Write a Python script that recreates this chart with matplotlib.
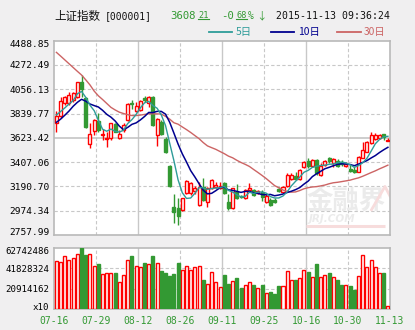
import numpy as np
import pandas as pd
import matplotlib
matplotlib.use("Agg")
import matplotlib.pyplot as plt
from matplotlib.lines import Line2D
from matplotlib.transforms import ScaledTranslation

# ---- datos diarios (07-16 .. 11-13) ----
opens = [3753, 3821, 3931, 3931, 3961, 3990, 4118, 3981, 3566, 3684,
         3774, 3649, 3613, 3619, 3744, 3619, 3693, 3782, 3930, 3863,
         3872, 3981, 3931, 3990, 3649, 3762, 3613, 3376, 3011, 2996,
         2981, 3129, 3129, 3150, 3025, 3189, 3055, 3174, 3186, 3174,
         3218, 3055, 2996, 3138, 3105, 3085, 3159, 3159, 3129, 3138,
         3049, 3070, 3070, 3168, 3144, 3198, 3257, 3287, 3257, 3367,
         3417, 3376, 3426, 3293, 3382, 3447, 3396, 3417, 3405, 3376,
         3350, 3340, 3322, 3447, 3500, 3575, 3613, 3625, 3655, 3598]
highs = [3863, 3990, 3999, 4029, 4035, 4124, 4183, 3990, 3753, 3791,
         3842, 3702, 3679, 3759, 3753, 3693, 3753, 3937, 3961, 3946,
         3961, 3999, 3999, 3996, 3797, 3783, 3634, 3382, 3120, 3085,
         3091, 3248, 3233, 3198, 3233, 3269, 3189, 3257, 3233, 3233,
         3233, 3120, 3180, 3210, 3114, 3168, 3218, 3168, 3159, 3159,
         3120, 3085, 3088, 3189, 3198, 3307, 3307, 3322, 3346, 3417,
         3447, 3435, 3435, 3400, 3425, 3456, 3447, 3435, 3426, 3411,
         3382, 3367, 3465, 3589, 3596, 3673, 3664, 3661, 3661, 3620]
lows = [3679, 3797, 3916, 3916, 3946, 3981, 3990, 3714, 3530, 3649,
        3679, 3604, 3545, 3604, 3673, 3613, 3679, 3774, 3880, 3851,
        3863, 3946, 3901, 3732, 3554, 3649, 3486, 3189, 2862, 2847,
        2975, 3120, 3114, 3120, 3020, 3061, 3011, 3168, 3174, 3165,
        3120, 2981, 2990, 3079, 3085, 3079, 3144, 3109, 3120, 3061,
        3040, 3020, 3040, 3144, 3140, 3189, 3248, 3248, 3248, 3352,
        3358, 3367, 3293, 3287, 3376, 3396, 3367, 3367, 3376, 3367,
        3322, 3308, 3316, 3441, 3495, 3566, 3604, 3613, 3604, 3596]
closes = [3818, 3952, 3984, 4005, 4020, 4118, 4059, 3717, 3655, 3780,
          3693, 3658, 3625, 3753, 3679, 3661, 3738, 3925, 3926, 3910,
          3952, 3964, 3990, 3738, 3791, 3655, 3495, 3198, 2966, 2930,
          3085, 3239, 3218, 3174, 3189, 3070, 3174, 3248, 3204, 3198,
          3129, 2996, 3174, 3085, 3098, 3159, 3180, 3115, 3150, 3100,
          3109, 3025, 3055, 3150, 3189, 3293, 3293, 3257, 3337, 3405,
          3376, 3426, 3308, 3373, 3417, 3417, 3435, 3376, 3388, 3388,
          3330, 3320, 3456, 3515, 3584, 3649, 3649, 3649, 3631, 3608.21]
# volumen (x10), en millones
vol_m = [49.2, 48.2, 54.8, 50.3, 52.3, 56.5, 62.742486, 55.8, 56.5, 44.0,
         46.4, 36.1, 36.7, 36.7, 37.1, 27.4, 34.7, 50.3, 54.8, 44.0,
         43.0, 47.5, 46.1, 54.8, 47.1, 39.2, 37.1, 34.0, 36.1, 47.5,
         39.9, 44.0, 39.9, 43.0, 44.0, 29.5, 25.3, 37.8, 27.4, 22.2,
         35.0, 26.0, 28.4, 31.9, 21.5, 24.3, 27.4, 24.3, 21.1, 24.3,
         15.9, 17.3, 15.3, 23.6, 23.2, 38.8, 29.5, 29.5, 31.5, 39.9,
         38.1, 32.6, 46.4, 32.6, 34.7, 37.1, 32.6, 29.8, 24.6, 24.3,
         23.6, 19.4, 33.6, 55.5, 43.0, 50.3, 43.0, 36.7, 37.1, 2.4]

# medias al inicio de la ventana (dependen de días anteriores)
ma5_head = [3827, 3858, 3890, 3925]
ma10_head = [3762, 3790, 3825, 3862, 3905, 3940, 3967, 3950, 3925]
ma30_head = [4385, 4352, 4318, 4284, 4250, 4216, 4183, 4140, 4095, 4040,
             3998, 3965, 3930, 3895, 3872, 3852, 3840, 3830, 3822, 3822,
             3826, 3832, 3838, 3838, 3837, 3835, 3815, 3790, 3758]

date_labels = ["07-16", "07-29", "08-12", "08-26", "09-11",
               "09-25", "10-16", "10-30", "11-13"]
price_ticks = [2757.99, 2974.34, 3190.70, 3407.06, 3623.42,
               3839.77, 4056.13, 4272.49, 4488.85]
VOL_MAX = 62742486

# ---- colores ----
BG = "#f0eff0"
RED = "#ff0000"
GREEN = "#339933"
C5, C10, C30 = "#2e9c99", "#00008f", "#cc6464"
GRID = "#c8c8c8"
MONO = "DejaVu Sans Mono"
CJK = ["Noto Sans CJK SC", "DejaVu Sans"]

n = len(closes)
x = np.arange(n) + 0.5
o = np.array(opens, float)
c = np.array(closes, float)
up = c >= o

s = pd.Series(c)
ma5 = s.rolling(5).mean().to_numpy()
ma5[:4] = ma5_head
ma10 = s.rolling(10).mean().to_numpy()
ma10[:9] = ma10_head
ma30 = s.rolling(30).mean().to_numpy()
ma30[:29] = ma30_head

fig = plt.figure(figsize=(4.15, 3.3), dpi=100, facecolor=BG)
ax = fig.add_axes([54.3 / 415, 95 / 330, 335.7 / 415, 194.3 / 330])
axv = fig.add_axes([54.3 / 415, 21.3 / 330, 335.7 / 415, 60.4 / 330])


def style_axes(a):
    a.set_facecolor("white")
    for sp in a.spines.values():
        sp.set_color("#b9b9b9")
        sp.set_linewidth(1.2)
    a.tick_params(length=0, pad=3.5, labelsize=6.8)
    for k in range(10, 80, 10):
        if k % 20 == 0:
            a.axvline(k, color=GRID, lw=1.0, zorder=0)
        else:
            a.axvline(k, color=GRID, lw=0.8, ls=(0, (3, 2)), zorder=0)


def nudge_edge_labels(a, top_px, bottom_px):
    # separa un poco del borde la primera y la última etiqueta del eje y
    labs = a.get_yticklabels()
    for lab, dy in ((labs[-1], -top_px), (labs[0], bottom_px)):
        lab.set_transform(lab.get_transform() +
                          ScaledTranslation(0, dy / 100, fig.dpi_scale_trans))


style_axes(ax)
style_axes(axv)

# ---- precio ----
ax.set_xlim(0, n)
ax.set_ylim(price_ticks[0], price_ticks[-1])
for k, yv in enumerate(price_ticks[1:-1], start=1):
    if k == 4:
        ax.axhline(yv, color="#c0c0c0", lw=1.1, zorder=0)
    else:
        ax.axhline(yv, color=GRID, lw=0.8, ls=(0, (3, 2)), zorder=0)

# marca de agua
ax.text(0.87, 0.17, "金融界", transform=ax.transAxes, fontsize=19,
        family=CJK, fontweight="bold", color="#ebebeb", ha="center",
        va="center", zorder=0.5)
ax.text(0.826, 0.082, "JRJ.COM", transform=ax.transAxes, fontsize=7.5,
        fontweight="bold", style="italic", color="#ebebeb", ha="center",
        va="center", zorder=0.5)
ax.plot([0.75, 0.985], [0.045, 0.045], transform=ax.transAxes,
        color="#f7dcdc", lw=2.2, zorder=0.5, solid_capstyle="butt")
ax.plot([0.945, 0.985, 1.0], [0.13, 0.25, 0.20], transform=ax.transAxes,
        color="#f7dcdc", lw=2.0, zorder=0.5)

cols = np.where(up, RED, GREEN)
ax.vlines(x, lows, highs, colors=cols, lw=1.0, zorder=2)
body_h = np.maximum(np.abs(c - o), 4)
body_b = np.minimum(o, c)
ax.bar(x, body_h, bottom=body_b, width=0.72,
       facecolor=np.where(up, "white", GREEN), edgecolor=cols,
       linewidth=1.0, zorder=3)

ax.plot(x, ma30, color=C30, lw=1.0, zorder=4)
ax.plot(x, ma10, color=C10, lw=1.1, zorder=4)
ax.plot(x, ma5, color=C5, lw=1.0, zorder=4)

ax.set_xticks([])
ax.set_yticks(price_ticks)
ax.set_yticklabels([f"{v:.2f}" for v in price_ticks], family=MONO)
nudge_edge_labels(ax, 2.6, 3.5)

# ---- volumen ----
vol = np.array(vol_m) * 1e6
axv.set_xlim(0, n)
axv.set_ylim(0, VOL_MAX)
for yv in (VOL_MAX / 3, VOL_MAX * 2 / 3):
    axv.axhline(yv, color=GRID, lw=0.8, ls=(0, (3, 2)), zorder=0)
axv.bar(x, vol, width=0.72, facecolor=np.where(up, "white", GREEN),
        edgecolor=cols, linewidth=1.0, zorder=3)
vticks = [0, VOL_MAX / 3, VOL_MAX * 2 / 3, VOL_MAX]
axv.set_yticks(vticks)
axv.set_yticklabels(["x10"] + [f"{round(v)}" for v in vticks[1:]],
                    family=MONO, fontsize=6.6)
nudge_edge_labels(axv, 2.0, 2.0)
axv.set_xticks(np.arange(0, n + 1, 10))
axv.set_xticklabels(date_labels, family=MONO, color=GREEN, fontsize=7)
axv.tick_params(axis="x", pad=5)


# ---- cabecera ----
def ftext(px, py, s, va="baseline", **kw):
    return fig.text(px / 415, 1 - py / 330, s, va=va, **kw)


def underline(px0, px1, py):
    fig.add_artist(Line2D([px0 / 415, px1 / 415], [1 - py / 330, 1 - py / 330],
                          color=GREEN, lw=0.8))


ftext(54, 19.5, "上证指数", family=CJK, fontsize=8.3, color="#111111")
ftext(105, 19, "[000001]", family=MONO, fontsize=7.0, color="#111111")
ftext(170, 19, "3608", family=MONO, fontsize=7.7, color=GREEN)
ftext(198, 17.5, "21", family=MONO, fontsize=6.2, color=GREEN)
underline(198, 209, 18.6)
ftext(221, 19, "-0", family=MONO, fontsize=7.7, color=GREEN)
ftext(236, 17.5, "68", family=MONO, fontsize=6.2, color=GREEN)
underline(236, 247, 18.6)
ftext(247.5, 19, "%", family=MONO, fontsize=7.0, color=GREEN)
ftext(256, 19.5, "↓", family=CJK, fontsize=7.5, color=GREEN)
ftext(276, 19, "2015-11-13 09:36:24", family=MONO, fontsize=7.1,
      color="#111111")

# leyenda de medias
for x0, x1, tx, label, col in [(209, 232, 236, "5日", C5),
                              (271, 294, 298, "10日", C10),
                              (337, 361, 364, "30日", C30)]:
    fig.add_artist(Line2D([x0 / 415, x1 / 415], [1 - 32.3 / 330, 1 - 32.3 / 330],
                          color=col, lw=1.3))
    ftext(tx, 32.3, label, va="center", family=CJK, fontsize=7.4, color=col)

fig.savefig("out.png", dpi=100, facecolor=BG)
